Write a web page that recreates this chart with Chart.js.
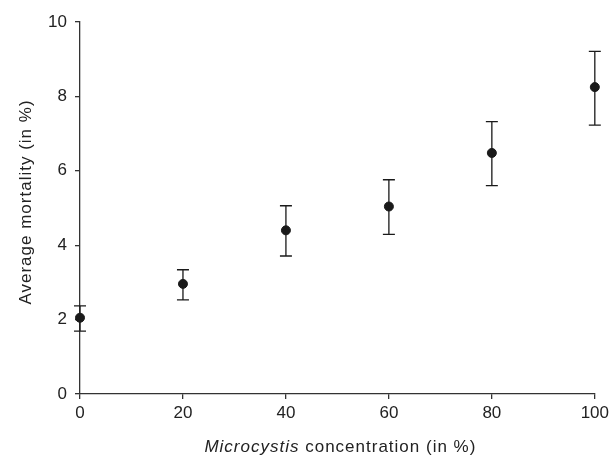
<!DOCTYPE html>
<html lang="en">
<head>
<meta charset="UTF-8">
<title>Average mortality vs Microcystis concentration</title>
<script src="https://cdn.jsdelivr.net/npm/chart.js"></script>
<style>
    body { margin: 0; padding: 0; background: #fff; }
    #wrap { width: 613px; height: 455px; }
</style>
</head>
<body>
<div id="wrap"><canvas id="graph" width="613" height="455"></canvas></div>
<script>
    // data
    const concentrations = [0, 20, 40, 60, 80, 100];
    const mortality = [2.05, 2.96, 4.40, 5.04, 6.48, 8.25];
    const errUpper = [2.37, 3.34, 5.06, 5.76, 7.32, 9.21];
    const errLower = [1.69, 2.53, 3.71, 4.29, 5.60, 7.23];
    const xTicks = [0, 20, 40, 60, 80, 100];
    const yTicks = [0, 2, 4, 6, 8, 10];

    const ink = '#1a1a1a';
    const fontFamily = '"Liberation Sans", Arial, sans-serif';

    // vertical error bars with caps, drawn through the scales
    const errorBars = {
        id: 'errorBars',
        afterDatasetsDraw(chart) {
            const ctx = chart.ctx;
            const xs = chart.scales.x, ys = chart.scales.y;
            ctx.save();
            ctx.strokeStyle = ink;
            ctx.lineWidth = 1.3;
            concentrations.forEach((c, i) => {
                const px = xs.getPixelForValue(c);
                const top = ys.getPixelForValue(errUpper[i]);
                const bot = ys.getPixelForValue(errLower[i]);
                ctx.beginPath();
                ctx.moveTo(px, top); ctx.lineTo(px, bot);
                ctx.moveTo(px - 6, top); ctx.lineTo(px + 6, top);
                ctx.moveTo(px - 6, bot); ctx.lineTo(px + 6, bot);
                ctx.stroke();
            });
            ctx.restore();
        }
    };

    // axis titles (x title has an italic genus name)
    const axisTitles = {
        id: 'axisTitles',
        afterDraw(chart) {
            const ctx = chart.ctx;
            const area = chart.chartArea;
            ctx.save();
            ctx.fillStyle = '#222';
            ctx.letterSpacing = '1px';
            ctx.textBaseline = 'alphabetic';

            const italicFont = 'italic 17px ' + fontFamily;
            const normalFont = '17px ' + fontFamily;
            const part1 = 'Microcystis';
            const part2 = ' concentration (in %)';
            ctx.font = italicFont;
            const w1 = ctx.measureText(part1).width;
            ctx.font = normalFont;
            const w2 = ctx.measureText(part2).width;
            let x = (area.left + area.right) / 2 + 3 - (w1 + w2) / 2;
            const y = 451.5;
            ctx.textAlign = 'left';
            ctx.font = italicFont;
            ctx.fillText(part1, x, y);
            ctx.font = normalFont;
            ctx.fillText(part2, x + w1, y);

            ctx.translate(30.5, (area.top + area.bottom) / 2 - 6);
            ctx.rotate(-Math.PI / 2);
            ctx.textAlign = 'center';
            ctx.fillText('Average mortality (in %)', 0, 0);
            ctx.restore();
        }
    };

    new Chart(document.getElementById('graph').getContext('2d'), {
        type: 'scatter',
        data: {
            datasets: [{
                label: 'Average mortality',
                data: concentrations.map((c, i) => ({ x: c, y: mortality[i] })),
                backgroundColor: ink,
                borderColor: ink,
                pointRadius: 4.5,
                pointHoverRadius: 4.5,
                clip: false
            }]
        },
        options: {
            responsive: false,
            animation: false,
            layout: { padding: { top: 22, right: 18, left: 0, bottom: 0 } },
            plugins: {
                legend: { display: false },
                tooltip: { enabled: false }
            },
            scales: {
                x: {
                    type: 'linear',
                    min: 0, max: 100,
                    afterBuildTicks: s => { s.ticks = xTicks.map(v => ({ value: v })); },
                    afterFit: s => { s.height = 61; },
                    grid: { drawOnChartArea: false, drawTicks: true, tickLength: 5, color: '#333', lineWidth: 1.3 },
                    border: { display: true, color: '#333', width: 1.3 },
                    ticks: { color: '#222', font: { family: fontFamily, size: 17 }, padding: 4, maxRotation: 0 }
                },
                y: {
                    type: 'linear',
                    min: 0, max: 10,
                    afterBuildTicks: s => { s.ticks = yTicks.map(v => ({ value: v })); },
                    afterFit: s => { s.width = 80; },
                    grid: { drawOnChartArea: false, drawTicks: true, tickLength: 5, color: '#333', lineWidth: 1.3 },
                    border: { display: true, color: '#333', width: 1.3 },
                    ticks: { color: '#222', font: { family: fontFamily, size: 17 }, padding: 8 }
                }
            }
        },
        plugins: [errorBars, axisTitles]
    });
</script>
</body>
</html>
